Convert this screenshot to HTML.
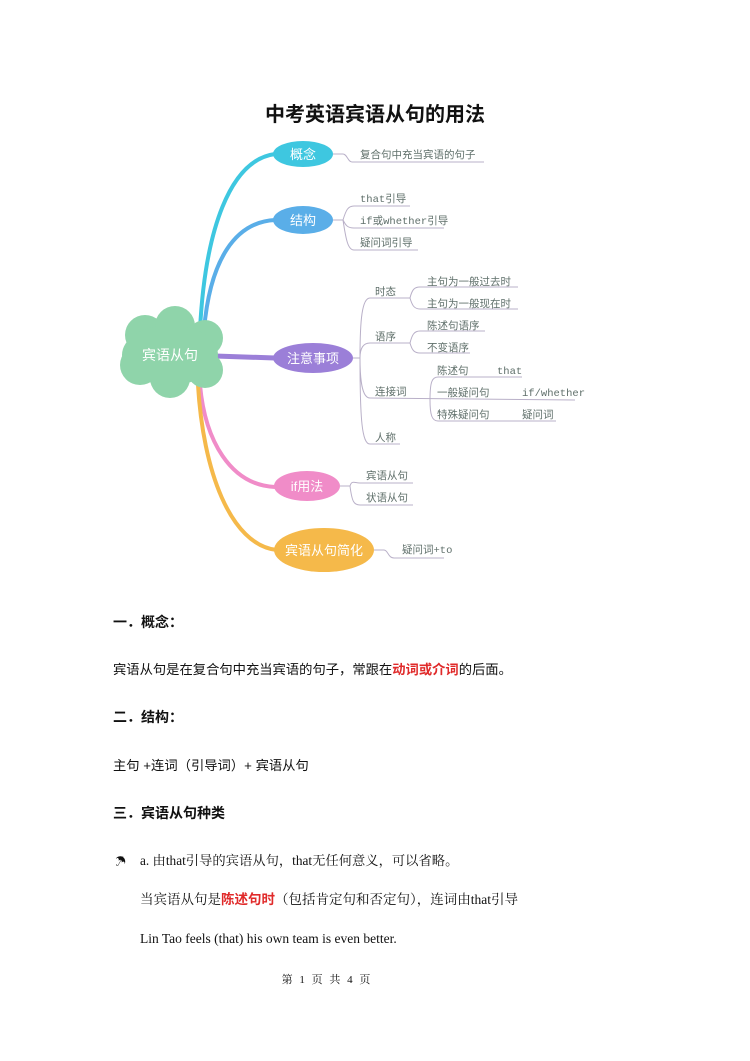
<!DOCTYPE html>
<html><head><meta charset="utf-8"><style>
body{margin:0;background:#fff}
svg{display:block}
.m{font-family:"Liberation Sans","Noto Sans CJK SC",sans-serif}
.s{font-family:"Liberation Serif","Noto Serif CJK SC",serif}
.lf{font-family:"Liberation Mono","Noto Sans CJK SC",monospace;font-size:10.5px;fill:#5f6f6a}
.ln{stroke:#b9b0c8;stroke-width:1;fill:none}
</style></head><body>
<svg width="750" height="1061" viewBox="0 0 750 1061" xmlns="http://www.w3.org/2000/svg">
<text x="375" y="121" text-anchor="middle" class="m" font-size="20" font-weight="bold" fill="#111">中考英语宾语从句的用法</text>

<path d="M200,330 C205,230 230,160 275,154" stroke="#3ec7e0" stroke-width="4" fill="none"/>
<path d="M204,330 C210,260 235,222 275,220" stroke="#5aaee8" stroke-width="4" fill="none"/>
<path d="M215,356 L275,358" stroke="#9b7fd8" stroke-width="5" fill="none"/>
<path d="M200,385 C205,440 230,485 275,487" stroke="#f08cc8" stroke-width="4" fill="none"/>
<path d="M198,385 C203,470 230,545 277,550" stroke="#f5b94a" stroke-width="4" fill="none"/>

<g fill="#8fd4aa">
<circle cx="145" cy="335" r="20"/><circle cx="175" cy="326" r="20"/><circle cx="205" cy="338" r="18"/>
<circle cx="140" cy="365" r="20"/><circle cx="170" cy="378" r="20"/><circle cx="205" cy="370" r="18"/>
<ellipse cx="170" cy="355" rx="48" ry="30"/>
</g>
<text x="170" y="360" text-anchor="middle" class="m" font-size="14" fill="#fff">宾语从句</text>

<ellipse cx="303" cy="154" rx="30" ry="13" fill="#3ec7e0"/>
<text x="303" y="159" text-anchor="middle" class="m" font-size="13" fill="#fff">概念</text>
<ellipse cx="303" cy="220" rx="30" ry="14" fill="#5aaee8"/>
<text x="303" y="225" text-anchor="middle" class="m" font-size="13" fill="#fff">结构</text>
<ellipse cx="313" cy="358" rx="40" ry="15" fill="#9b7fd8"/>
<text x="313" y="363" text-anchor="middle" class="m" font-size="13" fill="#fff">注意事项</text>
<ellipse cx="307" cy="486" rx="33" ry="15" fill="#f08cc8"/>
<text x="307" y="491" text-anchor="middle" class="m" font-size="13" fill="#fff">if用法</text>
<ellipse cx="324" cy="550" rx="50" ry="22" fill="#f5b94a"/>
<text x="324" y="555" text-anchor="middle" class="m" font-size="13" fill="#fff">宾语从句简化</text>

<path class="ln" d="M333,154 L343,154 C347,154 348,162 352,162 L484,162" stroke="#9bb"/>
<text x="360" y="158" class="lf" font-size="11">复合句中充当宾语的句子</text>

<path class="ln" d="M333,220 L343,220 M343,220 C346,210 348,206 354,206 L410,206 M343,220 C346,226 348,228 354,228 L444,228 M343,220 C346,240 348,250 354,250 L418,250"/>
<text x="360" y="202" class="lf">that引导</text>
<text x="360" y="224" class="lf">if或whether引导</text>
<text x="360" y="246" class="lf">疑问词引导</text>

<path class="ln" d="M353,358 L360,358 C360,320 362,298 370,298 L410,298 M360,358 C360,350 362,343 370,343 L410,343 M360,358 C360,380 362,398 370,398 L575,400 M360,358 C360,420 362,444 370,444 L400,444"/>
<text x="375" y="295" class="lf">时态</text>
<text x="375" y="340" class="lf">语序</text>
<text x="375" y="395" class="lf">连接词</text>
<text x="375" y="441" class="lf">人称</text>
<path class="ln" d="M410,298 C412,290 414,287 420,287 L518,287 M410,298 C412,305 414,309 420,309 L518,309 M410,343 C412,335 414,331 420,331 L485,331 M410,343 C412,350 414,353 420,353 L470,353 M430,400 C430,382 432,377 438,377 L522,377 M430,400 C430,415 432,421 438,421 L556,421"/>
<text x="427" y="285" class="lf">主句为一般过去时</text>
<text x="427" y="307" class="lf">主句为一般现在时</text>
<text x="427" y="329" class="lf">陈述句语序</text>
<text x="427" y="351" class="lf">不变语序</text>
<text x="437" y="374" class="lf">陈述句</text><text x="497" y="374" class="lf">that</text>
<text x="437" y="396" class="lf">一般疑问句</text><text x="522" y="396" class="lf">if/whether</text>
<text x="437" y="418" class="lf">特殊疑问句</text><text x="522" y="418" class="lf">疑问词</text>

<path class="ln" d="M340,486 L350,486 C352,480 354,483 360,483 L413,483 M350,486 C352,502 354,505 360,505 L413,505"/>
<text x="366" y="479" class="lf">宾语从句</text>
<text x="366" y="501" class="lf">状语从句</text>

<path class="ln" d="M374,550 L384,550 C388,550 388,558 394,558 L444,558"/>
<text x="402" y="553" class="lf">疑问词+to</text>

<text x="113" y="627" class="m" font-size="14" font-weight="bold" fill="#111">一．概念：</text>
<text x="113" y="674" class="m" font-size="13.3" fill="#111">宾语从句是在复合句中充当宾语的句子，常跟在<tspan fill="#e02a2a" font-weight="bold">动词或介词</tspan>的后面。</text>
<text x="113" y="722" class="m" font-size="14" font-weight="bold" fill="#111">二．结构：</text>
<text x="113" y="770" class="m" font-size="13.3" fill="#111">主句 +连词（引导词）+ 宾语从句</text>
<text x="113" y="818" class="m" font-size="14" font-weight="bold" fill="#111">三．宾语从句种类</text>
<text x="115" y="865" class="m" font-size="11" fill="#111">☂</text>
<text x="140" y="865" class="s" font-size="13.3" fill="#111">a. 由that引导的宾语从句，that无任何意义，可以省略。</text>
<text x="140" y="904" class="s" font-size="13.5" fill="#111">当宾语从句是<tspan fill="#e02a2a" font-weight="bold" class="m">陈述句时</tspan>（包括肯定句和否定句），连词由that引导</text>
<text x="140" y="943" class="s" font-size="13.5" fill="#111">Lin Tao feels (that) his own team is even better.</text>
<text x="327" y="983" text-anchor="middle" class="s" font-size="11" fill="#111" letter-spacing="2">第 1 页 共 4 页</text>
</svg>
</body></html>
